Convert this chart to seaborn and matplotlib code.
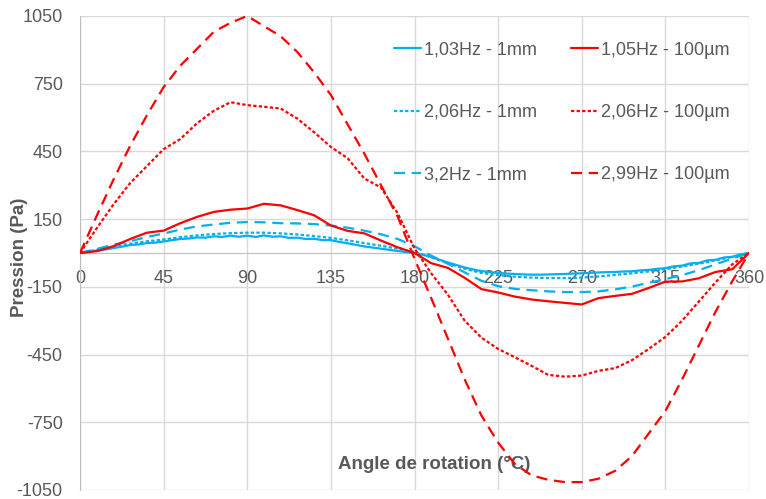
import numpy as np
import pandas as pd
import matplotlib
matplotlib.use("Agg")
import matplotlib.pyplot as plt
import seaborn as sns
from matplotlib.ticker import MultipleLocator

# angle de rotation, pas de 9 degres (4,5 degres pour la serie 1,03Hz)
angles = list(range(0, 361, 9))
angles_fine = list(np.arange(0, 360.1, 4.5))

p_103_1mm = [0, 5, 11, 15, 22, 28, 35, 38, 44, 46,
             51, 57, 62, 64, 69, 68, 74, 71, 77, 72,
             77, 71, 78, 72, 74, 67, 68, 62, 63, 57,
             57, 49, 43, 36, 29, 24, 19, 14, 9, 4,
             0, -8, -17, -30, -42, -53, -64, -73, -80, -85,
             -88, -91, -93, -95, -96, -96, -95, -94, -93, -91,
             -90, -88, -86, -85, -84, -82, -81, -77, -75, -70,
             -67, -59, -56, -46, -44, -33, -30, -20, -17, -6,
             0]
p_206_1mm = [0, 14, 29, 41, 52, 60, 70, 78, 84, 88, 90, 90, 87, 82, 75, 67, 56, 44, 32, 19,
             5, -20, -45, -70, -88, -98, -105, -109, -111, -111, -109, -104, -97, -90, -82,
             -72, -60, -47, -33, -17, 0]
p_32_1mm = [0, 18, 37, 52, 71, 86, 104, 118, 126, 134, 137, 136, 132, 131, 128, 122, 112, 99,
            83, 62, 30, -12, -48, -86, -123, -147, -159, -165, -170, -173, -173, -170, -161,
            -149, -132, -116, -98, -76, -50, -25, 0]
p_105_100um = [0, 8, 30, 62, 90, 99, 132, 160, 182, 192, 197, 218, 211, 190, 167, 122, 98, 87,
               55, 25, 0, -45, -66, -110, -160, -175, -193, -206, -214, -221, -228, -200, -190,
               -181, -155, -127, -126, -112, -84, -72, 0]
p_206_100um = [0, 110, 215, 310, 385, 460, 505, 575, 630, 668, 655, 648, 640, 595, 535, 470,
               420, 330, 290, 175, 20, -90, -185, -300, -375, -425, -462, -500, -540, -548,
               -543, -522, -510, -475, -425, -372, -300, -215, -130, -50, 0]
p_299_100um = [0, 165, 325, 475, 610, 735, 830, 905, 980, 1020, 1050, 1005, 960, 890, 800, 700,
               570, 440, 300, 160, -25, -200, -380, -560, -720, -840, -935, -985, -1005, -1015,
               -1015, -1000, -965, -900, -800, -700, -560, -410, -260, -125, 0]

series_names = ["1,03Hz - 1mm", "2,06Hz - 1mm", "3,2Hz - 1mm",
                "1,05Hz - 100µm", "2,06Hz - 100µm", "2,99Hz - 100µm"]
series_values = [p_103_1mm, p_206_1mm, p_32_1mm, p_105_100um, p_206_100um, p_299_100um]
series_angles = [angles_fine, angles, angles, angles, angles, angles]

frames = []
for name, x, vals in zip(series_names, series_angles, series_values):
    frames.append(pd.DataFrame({"Angle": x, "Pression": vals, "Serie": name}))
df = pd.concat(frames, ignore_index=True)

blue = "#00B0F0"
red = "#FF0000"
palette = {series_names[0]: blue, series_names[1]: blue, series_names[2]: blue,
           series_names[3]: red, series_names[4]: red, series_names[5]: red}
dashes = {series_names[0]: "", series_names[1]: (1.5, 1.0), series_names[2]: (5, 3),
          series_names[3]: "", series_names[4]: (1.5, 1.0), series_names[5]: (5, 3)}

sns.set_style("white")
plt.rcParams["font.family"] = ["Liberation Sans", "DejaVu Sans"]
plt.rcParams["axes.unicode_minus"] = False
txt = "#595959"
grid_c = "#D9D9D9"
axis_c = "#BFBFBF"

fig = plt.figure(figsize=(7.66, 4.99), dpi=100)
ax = fig.add_axes([80 / 766, 1 - 490 / 499, 669 / 766, 474 / 499])

sns.lineplot(data=df, x="Angle", y="Pression", hue="Serie", style="Serie",
             palette=palette, dashes=dashes, hue_order=series_names,
             style_order=series_names, sort=False, linewidth=1.6, ax=ax, zorder=3)

ax.set_xlim(0, 360)
ax.set_ylim(-1050, 1050)
ax.xaxis.set_major_locator(MultipleLocator(45))
ax.xaxis.set_minor_locator(MultipleLocator(9))
ax.yaxis.set_minor_locator(MultipleLocator(60))
ax.set_yticks(np.arange(-1050, 1051, 300))
ax.grid(True, which="major", color=grid_c, linewidth=1.0, zorder=0)
ax.set_axisbelow(True)

for s in ["top", "right"]:
    ax.spines[s].set_visible(False)
ax.spines["bottom"].set_position(("data", 0))
ax.spines["bottom"].set_color(axis_c)
ax.spines["left"].set_color(axis_c)
ax.spines["bottom"].set_zorder(2)

ax.tick_params(axis="x", which="both", direction="in", length=5, color=axis_c,
               labelsize=13, labelcolor=txt, pad=12)
ax.tick_params(axis="y", which="major", direction="inout", length=9, color=axis_c,
               labelsize=13, labelcolor=txt, pad=8)
ax.tick_params(axis="y", which="minor", direction="in", length=4, color=axis_c)

ax.set_xlabel("Angle de rotation (°C)", fontsize=13.5, fontweight="bold", color=txt)
ax.xaxis.set_label_coords(0.53, 0.053)
ax.xaxis.label.set_va("center")
ax.set_ylabel("Pression (Pa)", fontsize=13.5, fontweight="bold", color=txt)
ax.yaxis.set_label_coords(-0.09, 0.49)
ax.yaxis.label.set_va("center")

handles, labels = ax.get_legend_handles_labels()
leg = ax.legend(handles, labels, ncol=2, frameon=False, fontsize=13,
                loc="upper right", bbox_to_anchor=(0.995, 0.98),
                handlelength=1.5, handletextpad=0.15, labelspacing=2.5,
                columnspacing=1.9)
for t in leg.get_texts():
    t.set_color(txt)

fig.savefig("out.png", dpi=100)
